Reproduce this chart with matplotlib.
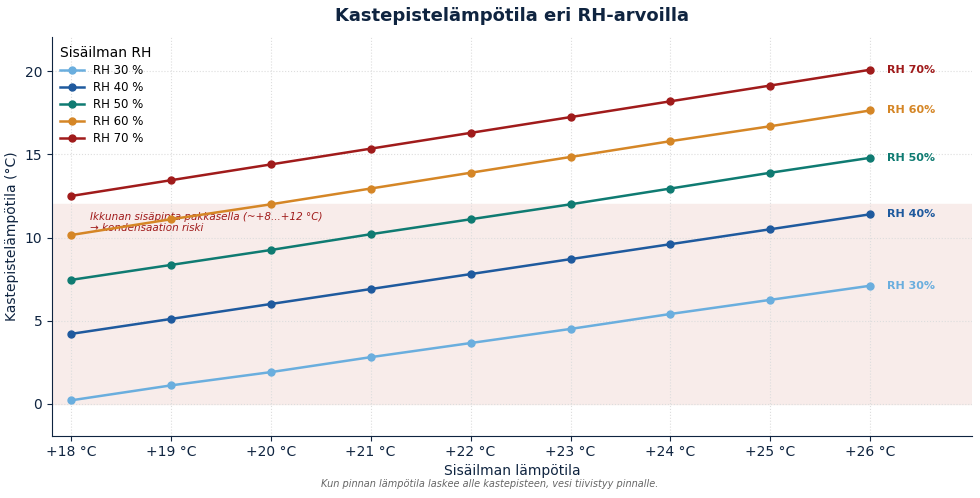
import numpy as np
import matplotlib.pyplot as plt

temps = [18, 19, 20, 21, 22, 23, 24, 25, 26]
temp_labels = ['+%d °C' % t for t in temps]

rh30 = [0.2, 1.1, 1.9, 2.8, 3.65, 4.5, 5.4, 6.25, 7.1]
rh40 = [4.2, 5.1, 6.0, 6.9, 7.8, 8.7, 9.6, 10.5, 11.4]
rh50 = [7.45, 8.35, 9.25, 10.2, 11.1, 12.0, 12.95, 13.9, 14.8]
rh60 = [10.15, 11.1, 12.0, 12.95, 13.9, 14.85, 15.8, 16.7, 17.65]
rh70 = [12.5, 13.45, 14.4, 15.35, 16.3, 17.25, 18.2, 19.15, 20.1]

series = [('RH 30 %', 'RH 30%', rh30, '#6aaede'),
          ('RH 40 %', 'RH 40%', rh40, '#1f5a9e'),
          ('RH 50 %', 'RH 50%', rh50, '#0f7b72'),
          ('RH 60 %', 'RH 60%', rh60, '#d58626'),
          ('RH 70 %', 'RH 70%', rh70, '#a01b1b')]

navy = '#0f2440'

fig, ax = plt.subplots(figsize=(9.8, 4.98), dpi=100)
fig.subplots_adjust(left=0.053, right=0.992, top=0.925, bottom=0.125)

# risk zone: window surface temperature in frost
ax.axhspan(0, 12, color='#f8ecea', zorder=0)
ax.text(18.19, 10.9, 'Ikkunan sisäpinta pakkasella (~+8...+12 °C)\n→ kondensaation riski',
        color='#a01b1b', style='italic', fontsize=7.5, va='center', ha='left',
        linespacing=1.15, zorder=3)

for name, short, vals, col in series:
    ax.plot(temps, vals, color=col, marker='o', markersize=5, linewidth=1.8,
            label=name, zorder=4)
    ax.text(26.17, vals[-1], short, color=col, fontsize=8, fontweight='bold',
            va='center', ha='left')

ax.set_xlim(17.81, 27.02)
ax.set_ylim(-1.93, 22.05)
ax.set_xticks(temps)
ax.set_xticklabels(temp_labels)
ax.set_yticks([0, 5, 10, 15, 20])
ax.tick_params(colors=navy, labelsize=10)
ax.grid(True, linestyle=':', color='#dddddd', linewidth=0.8)
for s in ['top', 'right']:
    ax.spines[s].set_visible(False)
for s in ['left', 'bottom']:
    ax.spines[s].set_color(navy)

ax.set_title('Kastepistelämpötila eri RH-arvoilla', fontsize=13, fontweight='bold',
             color=navy, pad=12)
ax.set_xlabel('Sisäilman lämpötila', fontsize=10, color=navy, labelpad=3)
ax.set_ylabel('Kastepistelämpötila (°C)', fontsize=10, color=navy)

leg = ax.legend(title='Sisäilman RH', loc='upper left', frameon=False, fontsize=8.5,
                title_fontsize=10, borderaxespad=0.3, handlelength=2.0,
                labelspacing=0.35)
leg._legend_box.align = 'left'

fig.text(0.5, 0.022, 'Kun pinnan lämpötila laskee alle kastepisteen, vesi tiivistyy pinnalle.',
         ha='center', fontsize=7, style='italic', color='#666666')

fig.savefig('out.png', dpi=100)
